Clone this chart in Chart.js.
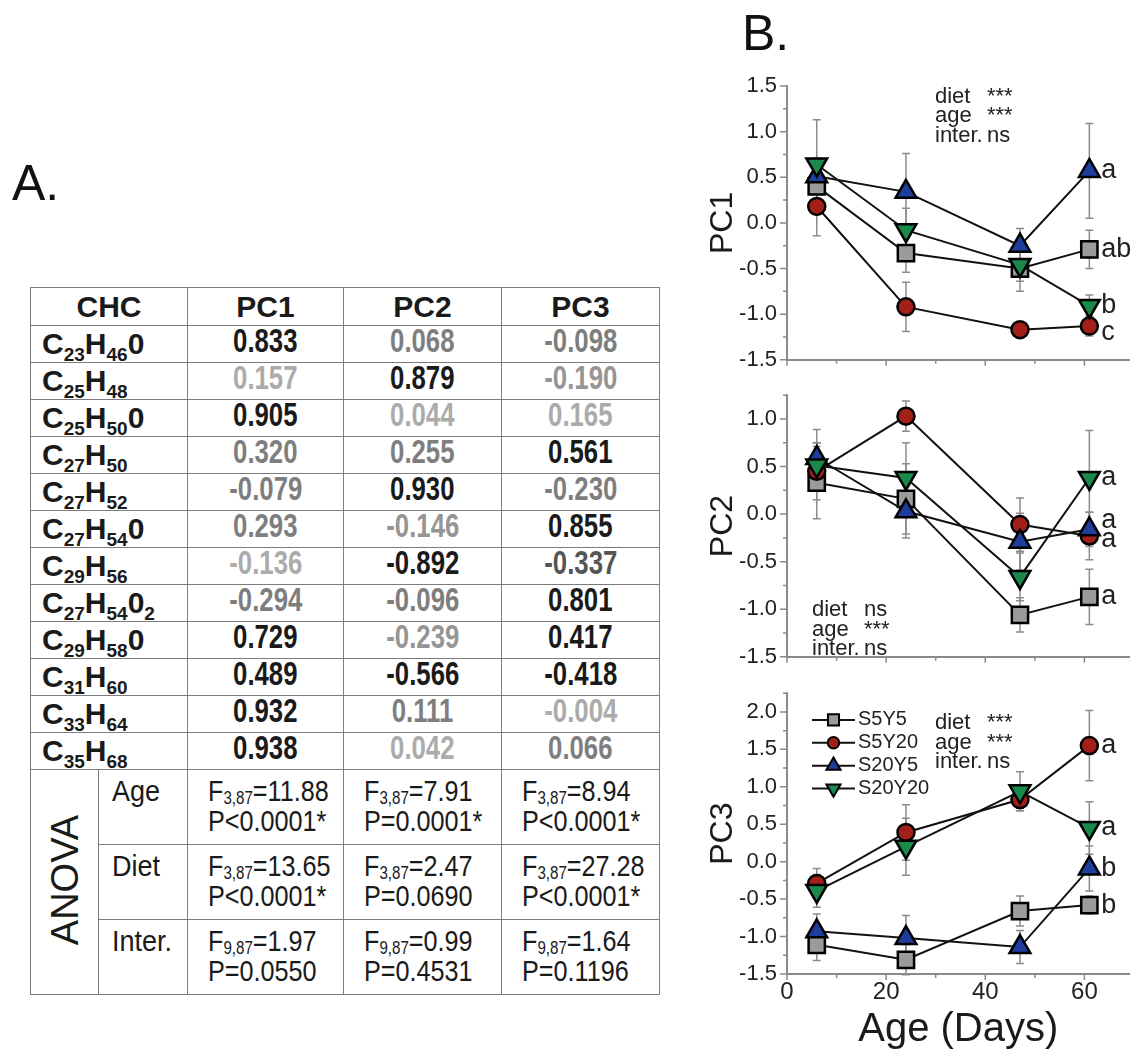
<!DOCTYPE html>
<html><head><meta charset="utf-8">
<script src="https://cdn.jsdelivr.net/npm/chart.js@4.4.1/dist/chart.umd.min.js"></script>
<style>
html,body{margin:0;padding:0;background:#fff;}
#wrap{position:relative;width:1144px;height:1053px;overflow:hidden;background:#fff;font-family:"Liberation Sans",Arial,Helvetica,sans-serif;color:#1a1a1a;}
.plabel{position:absolute;font-size:50px;line-height:50px;color:#111;}
canvas{position:absolute;}
#tbl{position:absolute;left:30px;top:287px;border-collapse:collapse;table-layout:fixed;width:629px;}
#tbl td,#tbl th{border:1.5px solid #7c7c7c;padding:0;overflow:hidden;white-space:nowrap;}
#tbl th{font-size:30px;font-weight:bold;text-align:center;height:37px;color:#1a1a1a;}
.frm{font-size:30px;font-weight:bold;padding-left:11px !important;text-align:left;height:36px;line-height:30px;}
.sub{font-size:19px;vertical-align:-7px;line-height:0;}
.val{text-align:center;line-height:30px;}
.val span{display:inline-block;font-size:33px;font-weight:bold;transform:scaleX(0.78);transform-origin:center;}
.anova{text-align:center;vertical-align:middle;}
.anova div{display:inline-block;writing-mode:vertical-rl;transform:rotate(180deg);font-size:38px;line-height:44px;color:#1a1a1a;}
.fac{vertical-align:top;padding:6px 0 0 13px !important;height:68px;font-size:30px;line-height:30px;}
.fac span{display:inline-block;transform:scaleX(0.9);transform-origin:left top;}
.st{vertical-align:top;padding:6px 0 0 20px !important;font-size:30px;line-height:30px;}
.st div{transform:scaleX(0.84);transform-origin:left top;}
.fsub{font-size:18px;vertical-align:-3px;line-height:0;}
</style>
</head><body>
<div id="wrap">
  <div class="plabel" style="left:12px;top:158px;">A.</div>
  <div class="plabel" style="left:742px;top:8px;">B.</div>
  <table id="tbl"></table>
  <canvas id="c1" width="444" height="323" style="left:700px;top:60px;"></canvas>
  <canvas id="c2" width="444" height="308" style="left:700px;top:372px;"></canvas>
  <canvas id="c3" width="444" height="383" style="left:700px;top:670px;"></canvas>
</div>
<script>
// ---------- Table data ----------
const chcFormulas = [
  ['C','23','H','46','0'], ['C','25','H','48'], ['C','25','H','50','0'], ['C','27','H','50'],
  ['C','27','H','52'], ['C','27','H','54','0'], ['C','29','H','56'], ['C','27','H','54','0','2'],
  ['C','29','H','58','0'], ['C','31','H','60'], ['C','33','H','64'], ['C','35','H','68']
];
const pcHeaders = ['PC1','PC2','PC3'];
const pc1Loadings = [0.833, 0.157, 0.905, 0.320, -0.079, 0.293, -0.136, -0.294, 0.729, 0.489, 0.932, 0.938];
const pc2Loadings = [0.068, 0.879, 0.044, 0.255, 0.930, -0.146, -0.892, -0.096, -0.239, -0.566, 0.111, 0.042];
const pc3Loadings = [-0.098, -0.190, 0.165, 0.561, -0.230, 0.855, -0.337, 0.801, 0.417, -0.418, -0.004, 0.066];
const anovaFactors = ['Age', 'Diet', 'Inter.'];
const anovaDf = ['3,87', '3,87', '9,87'];
const anovaF = [[11.88, 7.91, 8.94], [13.65, 2.47, 27.28], [1.97, 0.99, 1.64]];
const anovaP = [['P<0.0001*', 'P=0.0001*', 'P<0.0001*'], ['P<0.0001*', 'P=0.0690', 'P<0.0001*'], ['P=0.0550', 'P=0.4531', 'P=0.1196']];

// text shade of each loading (style only)
const pc1Tone = ['D','L','D','M','M','M','L','M','D','D','D','D'];
const pc2Tone = ['M','D','L','M','D','ML','D','M','ML','D','M','L'];
const pc3Tone = ['M','ML','L','D','M','D','MD','D','D','D','L','M'];
const toneColor = {D:'#1a1a1a', MD:'#555', M:'#7e7e7e', ML:'#959595', L:'#ababab'};

// ---------- Chart data ----------
const days = [6, 24, 47, 61];
const seriesNames = ['S5Y5', 'S5Y20', 'S20Y5', 'S20Y20'];
const xTicks = [0, 20, 40, 60];

const pc1_S5Y5   = [0.40, -0.33, -0.50, -0.29];
const pc1_S5Y20  = [0.18, -0.92, -1.17, -1.13];
const pc1_S20Y5  = [0.51, 0.34, -0.25, 0.57];
const pc1_S20Y20 = [0.64, -0.08, -0.46, -0.91];
const pc1_S5Y5_err   = [0.20, 0.21, 0.25, 0.21];
const pc1_S5Y20_err  = [0.32, 0.27, 0.08, 0.11];
const pc1_S20Y5_err  = [0.20, 0.42, 0.19, 0.52];
const pc1_S20Y20_err = [0.49, 0.24, 0.18, 0.12];
const pc1Letters = ['a', 'ab', 'b', 'c'];
const pc1LetterY = [0.57, -0.29, -0.91, -1.20];
const pc1Stats = [['diet', '***'], ['age', '***'], ['inter.', 'ns']];
const pc1YTicks = [-1.5, -1.0, -0.5, 0.0, 0.5, 1.0, 1.5];

const pc2_S5Y5   = [0.33, 0.16, -1.06, -0.87];
const pc2_S5Y20  = [0.45, 1.03, -0.11, -0.23];
const pc2_S20Y5  = [0.59, 0.03, -0.29, -0.16];
const pc2_S20Y20 = [0.51, 0.38, -0.66, 0.38];
const pc2_S5Y5_err   = [0.38, 0.37, 0.18, 0.29];
const pc2_S5Y20_err  = [0.30, 0.16, 0.28, 0.25];
const pc2_S20Y5_err  = [0.30, 0.28, 0.30, 0.18];
const pc2_S20Y20_err = [0.24, 0.37, 0.25, 0.50];
const pc2Letters = ['a', 'a', 'a', 'a'];
const pc2LetterY = [0.38, -0.07, -0.27, -0.87];
const pc2Stats = [['diet', 'ns'], ['age', '***'], ['inter.', 'ns']];
const pc2YTicks = [-1.5, -1.0, -0.5, 0.0, 0.5, 1.0];

const pc3_S5Y5   = [-1.11, -1.31, -0.66, -0.58];
const pc3_S5Y20  = [-0.29, 0.39, 0.83, 1.55];
const pc3_S20Y5  = [-0.93, -1.02, -1.14, -0.09];
const pc3_S20Y20 = [-0.39, 0.20, 0.94, 0.45];
const pc3_S5Y5_err   = [0.21, 0.20, 0.20, 0.12];
const pc3_S5Y20_err  = [0.20, 0.37, 0.15, 0.47];
const pc3_S20Y5_err  = [0.23, 0.30, 0.22, 0.30];
const pc3_S20Y20_err = [0.22, 0.38, 0.26, 0.35];
const pc3Letters = ['a', 'a', 'b', 'b'];
const pc3LetterY = [1.55, 0.45, -0.09, -0.58];
const pc3Stats = [['diet', '***'], ['age', '***'], ['inter.', 'ns']];
const pc3YTicks = [-1.5, -1.0, -0.5, 0.0, 0.5, 1.0, 1.5, 2.0];

// ---------- Build table ----------
(function buildTable() {
  const loads = [pc1Loadings, pc2Loadings, pc3Loadings];
  const tones = [pc1Tone, pc2Tone, pc3Tone];
  let h = '<colgroup><col style="width:68px"><col style="width:89px"><col style="width:156px"><col style="width:158px"><col style="width:158px"></colgroup>';
  h += '<tr><th colspan="2">CHC</th>' + pcHeaders.map(p => '<th>' + p + '</th>').join('') + '</tr>';
  chcFormulas.forEach((f, r) => {
    const fm = f.map((s, i) => i % 2 === 1 ? '<span class="sub">' + s + '</span>' : s).join('');
    h += '<tr><td colspan="2" class="frm">' + fm + '</td>';
    for (let c = 0; c < 3; c++) {
      h += '<td class="val"><span style="color:' + toneColor[tones[c][r]] + '">' + loads[c][r].toFixed(3) + '</span></td>';
    }
    h += '</tr>';
  });
  anovaFactors.forEach((fac, r) => {
    h += '<tr>';
    if (r === 0) h += '<td rowspan="3" class="anova"><div>ANOVA</div></td>';
    h += '<td class="fac"><span>' + fac + '</span></td>';
    for (let c = 0; c < 3; c++) {
      h += '<td class="st"><div>F<span class="fsub">' + anovaDf[r] + '</span>=' + anovaF[r][c].toFixed(2) + '</div><div>' + anovaP[r][c].replace('<', '&lt;') + '</div></td>';
    }
    h += '</tr>';
  });
  document.getElementById('tbl').innerHTML = h;
})();

// ---------- Charts ----------
const FONT = '"Liberation Sans", Arial, Helvetica, sans-serif';
Chart.defaults.font.family = FONT;
Chart.defaults.color = '#222';
const axisColor = '#8a8a8a';
const errColor = '#8c8c8c';
const markers = [
  {style: 'rect', rot: 0, r: 11.5, fill: '#9b9b9b'},
  {style: 'circle', rot: 0, r: 8.5, fill: '#a32019'},
  {style: 'triangle', rot: 0, r: 12, fill: '#1f3d9c'},
  {style: 'triangle', rot: 180, r: 12, fill: '#1a8a4c'}
];

function drawMarker(ctx, m, scale, x, y) {
  const r = m.r * scale;
  ctx.beginPath();
  if (m.style === 'circle') {
    ctx.arc(x, y, r, 0, Math.PI * 2);
  } else if (m.style === 'rect') {
    const s = r * Math.SQRT1_2;
    ctx.rect(x - s, y - s, 2 * s, 2 * s);
  } else {
    let a = m.rot * Math.PI / 180;
    ctx.moveTo(x + Math.sin(a) * r, y - Math.cos(a) * r);
    a += 2 * Math.PI / 3;
    ctx.lineTo(x + Math.sin(a) * r, y - Math.cos(a) * r);
    a += 2 * Math.PI / 3;
    ctx.lineTo(x + Math.sin(a) * r, y - Math.cos(a) * r);
    ctx.closePath();
  }
  ctx.fillStyle = m.fill;
  ctx.fill();
  ctx.lineWidth = 2;
  ctx.strokeStyle = '#000';
  ctx.stroke();
}

function decoPlugin(cfg) {
  return {
    id: 'deco',
    beforeDatasetsDraw(chart) {
      const {ctx, scales: {x, y}} = chart;
      ctx.save();
      ctx.strokeStyle = errColor;
      ctx.lineWidth = 1.5;
      chart.data.datasets.forEach(ds => {
        ds.data.forEach((p, i) => {
          const e = ds.errors[i];
          const px = x.getPixelForValue(p.x);
          const yt = y.getPixelForValue(p.y + e);
          const yb = y.getPixelForValue(p.y - e);
          ctx.beginPath();
          ctx.moveTo(px, yt); ctx.lineTo(px, yb);
          ctx.moveTo(px - 4, yt); ctx.lineTo(px + 4, yt);
          ctx.moveTo(px - 4, yb); ctx.lineTo(px + 4, yb);
          ctx.stroke();
        });
      });
      ctx.restore();
    },
    afterDraw(chart) {
      const {ctx, chartArea: a, scales: {x, y}} = chart;
      ctx.save();
      // tick marks (major + minor)
      ctx.strokeStyle = axisColor;
      ctx.lineWidth = 1.5;
      ctx.beginPath();
      cfg.yTicks.forEach(v => {
        const py = y.getPixelForValue(v);
        ctx.moveTo(a.left - 7, py); ctx.lineTo(a.left, py);
        const vm = v + 0.25;
        if (vm <= y.max + 1e-6) {
          const pm = y.getPixelForValue(vm);
          ctx.moveTo(a.left - 4, pm); ctx.lineTo(a.left, pm);
        }
      });
      xTicks.forEach(v => {
        const px = x.getPixelForValue(v);
        ctx.moveTo(px, a.bottom); ctx.lineTo(px, a.bottom + 6);
        const vm = v + 10;
        if (vm <= x.max) {
          const pm = x.getPixelForValue(vm);
          ctx.moveTo(pm, a.bottom); ctx.lineTo(pm, a.bottom + 4);
        }
      });
      ctx.stroke();
      // statistics text
      ctx.fillStyle = '#222';
      ctx.font = '22px ' + FONT;
      ctx.textBaseline = 'middle';
      ctx.textAlign = 'left';
      cfg.stats.forEach((row, i) => {
        const ty = a.top + cfg.statDy + i * 19.5;
        ctx.fillText(row[0], a.left + cfg.statDx, ty);
        ctx.fillText(row[1], a.left + cfg.statDx + 52, ty);
      });
      // group letters
      ctx.font = '27px ' + FONT;
      const lx = x.getPixelForValue(days[days.length - 1]) + 12;
      cfg.letters.forEach((t, i) => {
        ctx.fillText(t, lx, y.getPixelForValue(cfg.letterY[i]));
      });
      // legend
      if (cfg.legend) {
        ctx.font = '20px ' + FONT;
        chart.data.datasets.forEach((ds, k) => {
          const lx0 = a.left + 25;
          const ly = a.top + 26.7 + k * 22.9;
          ctx.strokeStyle = '#111';
          ctx.lineWidth = 2;
          ctx.beginPath();
          ctx.moveTo(lx0, ly); ctx.lineTo(lx0 + 43, ly);
          ctx.stroke();
          drawMarker(ctx, markers[k], 0.68, lx0 + 21.5, ly);
          ctx.fillStyle = '#222';
          ctx.fillText(ds.label, lx0 + 46, ly);
        });
      }
      ctx.restore();
    }
  };
}

function makePanel(id, cfg) {
  const datasets = seriesNames.map((name, k) => ({
    label: name,
    data: days.map((d, i) => ({x: d, y: cfg.values[k][i]})),
    errors: cfg.errors[k],
    showLine: true,
    borderColor: '#111',
    borderWidth: 2,
    pointStyle: markers[k].style,
    pointRotation: markers[k].rot,
    pointRadius: markers[k].r,
    pointHoverRadius: markers[k].r,
    pointBackgroundColor: markers[k].fill,
    pointBorderColor: '#000',
    pointBorderWidth: 2.5,
    order: 4 - k,
    tension: 0,
    fill: false,
    clip: false
  }));
  return new Chart(document.getElementById(id), {
    type: 'scatter',
    data: {datasets},
    options: {
      responsive: false,
      animation: false,
      events: [],
      layout: {padding: {top: cfg.padTop, left: 0, right: 0, bottom: 0}},
      plugins: {legend: {display: false}, tooltip: {enabled: false}},
      scales: {
        x: {
          type: 'linear', min: 0, max: 69.1,
          afterBuildTicks: s => { s.ticks = xTicks.map(v => ({value: v})); },
          afterFit: s => { s.height = cfg.xHeight; },
          grid: {display: false, drawTicks: false},
          border: {display: true, color: axisColor, width: 2},
          ticks: {display: cfg.showX, autoSkip: false, maxRotation: 0, padding: 4,
                  font: {size: 24}, color: '#222', callback: v => String(v)},
          title: {display: cfg.showX, text: 'Age (Days)', color: '#1a1a1a',
                  font: {size: 40, lineHeight: 1.15}, padding: 0}
        },
        y: {
          type: 'linear', min: cfg.yMin, max: cfg.yMax,
          afterBuildTicks: s => { s.ticks = cfg.yTicks.map(v => ({value: v})); },
          afterFit: s => { s.width = 87; },
          grid: {display: false, drawTicks: false},
          border: {display: true, color: axisColor, width: 2},
          ticks: {padding: 10, font: {size: 22}, color: '#222', callback: v => Number(v).toFixed(1)},
          title: {display: true, text: cfg.title, color: '#1a1a1a',
                  font: {size: 32, lineHeight: 1.2}, padding: {top: 4, bottom: 0}}
        }
      }
    },
    plugins: [decoPlugin(cfg)]
  });
}

makePanel('c1', {
  title: 'PC1', padTop: 26, xHeight: 12, showX: false, yMin: -1.5, yMax: 1.5, yTicks: pc1YTicks,
  values: [pc1_S5Y5, pc1_S5Y20, pc1_S20Y5, pc1_S20Y20],
  errors: [pc1_S5Y5_err, pc1_S5Y20_err, pc1_S20Y5_err, pc1_S20Y20_err],
  letters: pc1Letters, letterY: pc1LetterY, stats: pc1Stats, statDx: 148, statDy: 10.7, legend: false
});
makePanel('c2', {
  title: 'PC2', padTop: 10.7, xHeight: 12, showX: false, yMin: -1.5, yMax: 1.25, yTicks: pc2YTicks,
  values: [pc2_S5Y5, pc2_S5Y20, pc2_S20Y5, pc2_S20Y20],
  errors: [pc2_S5Y5_err, pc2_S5Y20_err, pc2_S20Y5_err, pc2_S20Y20_err],
  letters: pc2Letters, letterY: pc2LetterY, stats: pc2Stats, statDx: 25, statDy: 215, legend: false
});
makePanel('c3', {
  title: 'PC3', padTop: 19, xHeight: 79, showX: true, yMin: -1.5, yMax: 2.25, yTicks: pc3YTicks,
  values: [pc3_S5Y5, pc3_S5Y20, pc3_S20Y5, pc3_S20Y20],
  errors: [pc3_S5Y5_err, pc3_S5Y20_err, pc3_S20Y5_err, pc3_S20Y20_err],
  letters: pc3Letters, letterY: pc3LetterY, stats: pc3Stats, statDx: 148, statDy: 30, legend: true
});
</script>
</body></html>
